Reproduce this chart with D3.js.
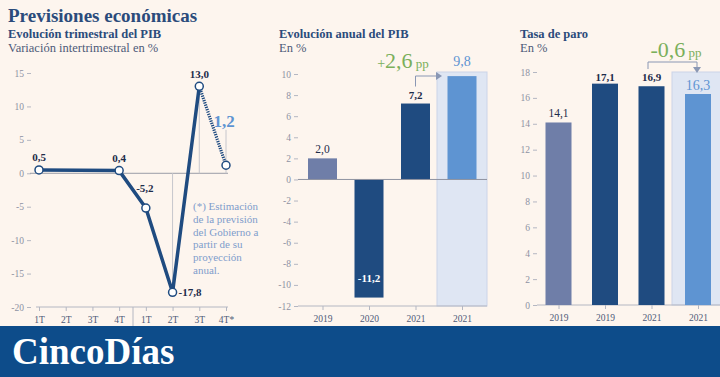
<!DOCTYPE html>
<html>
<head>
<meta charset="utf-8">
<script src="https://cdn.jsdelivr.net/npm/d3@7"></script>
<style>
  html, body { margin: 0; padding: 0; background: #fdf5ee; }
  svg { display: block; font-family: "Liberation Serif", serif; }
</style>
</head>
<body>
<svg id="chart" width="720" height="377"></svg>
<script>
// =========================
// DATOS
// =========================
const quarters = ["1T", "2T", "3T", "4T", "1T", "2T", "3T", "4T*"];
const pibTrimestral = [0.5, null, null, 0.4, -5.2, -17.8, 13.0, 1.2];
const quarterTicks = [-20, -15, -10, -5, 0, 5, 10, 15];

const pibYears = ["2019", "2020", "2021", "2021"];
const pibAnual = [2.0, -11.2, 7.2, 9.8];
const pibTicks = [-12, -10, -8, -6, -4, -2, 0, 2, 4, 6, 8, 10];

const paroYears = ["2019", "2019", "2021", "2021"];
const paroTasa = [14.1, 17.1, 16.9, 16.3];
const paroTicks = [0, 2, 4, 6, 8, 10, 12, 14, 16, 18];

// =========================
// ESTILOS
// =========================
const NAVY = "#1f4b80";
const GREY_BAR = "#6f7ea8";
const LIGHT = "#5e94d2";
const GREEN = "#7aaf5b";
const TICK = "#8d92a3";
const TITLE = "#2b4b7b";

const es = d3.formatLocale({ decimal: ",", thousands: ".", grouping: [3], currency: ["", "€"], minus: "-" });
const fmt = es.format(".1f");

const svg = d3.select("#chart");

svg.append("rect").attr("width", 720).attr("height", 377).attr("fill", "#fdf5ee");

// =========================
// TÍTULOS
// =========================
svg.append("text").attr("x", 8).attr("y", 22).text("Previsiones económicas")
  .style("font-size", "19px").style("font-weight", "bold").style("fill", TITLE);

function subtitle(x, title, sub) {
  svg.append("text").attr("x", x).attr("y", 38).text(title)
    .style("font-size", "12.5px").style("font-weight", "bold").style("fill", TITLE);
  svg.append("text").attr("x", x).attr("y", 52).text(sub)
    .style("font-size", "12.5px").style("fill", "#4d5a78");
}
subtitle(8, "Evolución trimestral del PIB", "Variación intertrimestral en %");
subtitle(279, "Evolución anual del PIB", "En %");
subtitle(520, "Tasa de paro", "En %");

function yAxis(g, scale, ticks, x) {
  const ax = g.append("g").attr("transform", `translate(${x},0)`)
    .call(d3.axisLeft(scale).tickValues(ticks).tickSize(4).tickPadding(3).tickFormat(d => String(d)));
  ax.select(".domain").remove();
  ax.selectAll("line").attr("stroke", "#b4b7c2");
  ax.selectAll("text").style("font-size", "9.5px").style("fill", TICK)
    .style("font-family", "'Liberation Serif', serif");
}

function xAxis(g, scale, labels, y, x0, x1) {
  g.append("line").attr("x1", x0).attr("x2", x1).attr("y1", y).attr("y2", y)
    .attr("stroke", "#b4b7c2");
  const ax = g.append("g").attr("transform", `translate(0,${y})`)
    .call(d3.axisBottom(scale).tickSize(4).tickPadding(5).tickFormat(i => labels[i]));
  ax.select(".domain").remove();
  ax.selectAll("line").attr("stroke", "#b4b7c2");
  ax.selectAll("text").style("font-size", "9.5px").style("fill", "#4d5a78")
    .style("font-family", "'Liberation Serif', serif");
}

// =========================
// GRÁFICO 1: TRIMESTRAL
// =========================
const g1 = svg.append("g");
const x1 = d3.scalePoint().domain(d3.range(quarters.length)).range([39, 226]);
const y1 = d3.scaleLinear().domain([-20, 15]).range([307, 73]);

yAxis(g1, y1, quarterTicks, 31);
xAxis(g1, x1, quarters, 307, 36, 228);
g1.append("line").attr("x1", 133).attr("x2", 133).attr("y1", 307).attr("y2", 326)
  .attr("stroke", "#b4b7c2");

g1.append("line").attr("x1", 30).attr("x2", 228).attr("y1", y1(0)).attr("y2", y1(0))
  .attr("stroke", "#9a9ca6");

// líneas guía verticales
const guides = [
  { i: 5, top: pibTrimestral[5], bottom: 0 },
  { i: 6, top: pibTrimestral[6], bottom: 0 },
  { i: 7, top: 6.5, bottom: 0 }
];
g1.selectAll(".guide").data(guides).enter().append("line")
  .attr("x1", d => x1(d.i)).attr("x2", d => x1(d.i))
  .attr("y1", d => y1(d.top)).attr("y2", d => y1(d.bottom))
  .attr("stroke", "#c6c6cc");

const pts = pibTrimestral.map((v, i) => ({ i, v })).filter(d => d.v !== null);
const real = pts.filter(d => d.i < 7);
const est = pts.filter(d => d.i >= 6);

const line = d3.line().x(d => x1(d.i)).y(d => y1(d.v));
g1.append("path").attr("d", line(real)).attr("fill", "none")
  .attr("stroke", NAVY).attr("stroke-width", 3.5).attr("stroke-linejoin", "round");
g1.append("path").attr("d", line(est)).attr("fill", "none")
  .attr("stroke", NAVY).attr("stroke-width", 3.2).attr("stroke-dasharray", "1.3,1.1");

g1.selectAll(".pt").data(pts).enter().append("circle")
  .attr("cx", d => x1(d.i)).attr("cy", d => y1(d.v)).attr("r", 4)
  .attr("fill", "white").attr("stroke", NAVY).attr("stroke-width", 1.5);

const labelPos = { 0: [0, -9, "middle"], 3: [0, -9, "middle"], 4: [-1, -16, "middle"], 5: [6, 4, "start"], 6: [0, -8, "middle"] };
g1.selectAll(".lbl").data(pts.filter(d => labelPos[d.i])).enter().append("text")
  .attr("x", d => x1(d.i) + labelPos[d.i][0]).attr("y", d => y1(d.v) + labelPos[d.i][1])
  .attr("text-anchor", d => labelPos[d.i][2])
  .text(d => fmt(d.v))
  .style("font-size", "11px").style("font-weight", "bold").style("fill", "#1d2c4a");

g1.append("text").attr("x", x1(7) - 2).attr("y", y1(pibTrimestral[7]) - 38)
  .attr("text-anchor", "middle").text(fmt(pibTrimestral[7]))
  .style("font-size", "17px").style("font-weight", "bold").style("fill", LIGHT);

const note = ["(*) Estimación", "de la previsión", "del Gobierno a", "partir de su", "proyección", "anual."];
g1.append("text").attr("x", 193).attr("y", 210)
  .style("font-size", "11px").style("fill", "#7f9dcc")
  .selectAll("tspan").data(note).enter().append("tspan")
  .attr("x", 193).attr("dy", (d, i) => i === 0 ? 0 : 12.8).text(d => d);

// =========================
// GRÁFICO 2: PIB ANUAL
// =========================
const g2 = svg.append("g");
const x2 = d3.scalePoint().domain(d3.range(pibYears.length)).range([322.5, 462]);
const y2 = d3.scaleLinear().domain([-12, 10]).range([306, 74]);
const bw2 = 29;
const barColors = [GREY_BAR, NAVY, NAVY, LIGHT];

g2.append("rect").attr("x", x2(3) - 25).attr("y", 72).attr("width", 50).attr("height", 306 - 72)
  .attr("fill", "#dfe6f3").attr("stroke", "#cbd4e8");

yAxis(g2, y2, pibTicks, 298);
xAxis(g2, x2, pibYears, 306, 298, 487);

g2.selectAll(".bar").data(pibAnual).enter().append("rect")
  .attr("x", (d, i) => x2(i) - bw2 / 2).attr("width", bw2)
  .attr("y", d => y2(Math.max(0, d))).attr("height", d => Math.abs(y2(d) - y2(0)))
  .attr("fill", (d, i) => barColors[i]);

g2.append("line").attr("x1", 298).attr("x2", 487).attr("y1", y2(0)).attr("y2", y2(0))
  .attr("stroke", "#8f93a0");

g2.append("text").attr("x", x2(0)).attr("y", y2(pibAnual[0]) - 5).attr("text-anchor", "middle")
  .text(fmt(pibAnual[0])).style("font-size", "11.5px").style("fill", "#1d2c4a");
g2.append("text").attr("x", x2(1)).attr("y", y2(pibAnual[1]) - 16).attr("text-anchor", "middle")
  .text(fmt(pibAnual[1])).style("font-size", "11px").style("font-weight", "bold").style("fill", "white");
g2.append("text").attr("x", x2(2)).attr("y", y2(pibAnual[2]) - 5).attr("text-anchor", "middle")
  .text(fmt(pibAnual[2])).style("font-size", "11px").style("font-weight", "bold").style("fill", "#1d2c4a");
g2.append("text").attr("x", x2(3)).attr("y", 66).attr("text-anchor", "middle")
  .text(fmt(pibAnual[3])).style("font-size", "14px").style("fill", LIGHT);

// flecha
g2.append("path")
  .attr("d", `M${x2(2)},${y2(pibAnual[2]) - 17}V76H${x2(3) - 22}`)
  .attr("fill", "none").attr("stroke", "#8a97b4").attr("stroke-width", 1);
g2.append("path").attr("d", `M${x2(3) - 26},72L${x2(3) - 20},76L${x2(3) - 26},80Z`).attr("fill", "#8a97b4");

const diffPib = pibAnual[3] - pibAnual[2];
const t2 = g2.append("text").attr("x", 403).attr("y", 68).attr("text-anchor", "middle").style("fill", GREEN);
t2.append("tspan").text(diffPib >= 0 ? "+" : "-").style("font-size", "14px");
t2.append("tspan").text(fmt(Math.abs(diffPib))).style("font-size", "22px");
t2.append("tspan").text(" pp").style("font-size", "13px");

// =========================
// GRÁFICO 3: PARO
// =========================
const g3 = svg.append("g");
const x3 = d3.scalePoint().domain(d3.range(paroYears.length)).range([558.5, 698]);
const y3 = d3.scaleLinear().domain([0, 18]).range([305, 72]);
const bw3 = 26;

g3.append("rect").attr("x", 672).attr("y", 72).attr("width", 60).attr("height", 305 - 72)
  .attr("fill", "#dfe6f3").attr("stroke", "#cbd4e8");

yAxis(g3, y3, paroTicks, 537);
xAxis(g3, x3, paroYears, 305, 537, 720);

g3.selectAll(".bar").data(paroTasa).enter().append("rect")
  .attr("x", (d, i) => x3(i) - bw3 / 2).attr("width", bw3)
  .attr("y", d => y3(d)).attr("height", d => y3(0) - y3(d))
  .attr("fill", (d, i) => barColors[i]);

g3.append("text").attr("x", x3(0)).attr("y", y3(paroTasa[0]) - 5).attr("text-anchor", "middle")
  .text(fmt(paroTasa[0])).style("font-size", "11.5px").style("fill", "#1d2c4a");
[1, 2].forEach(i => {
  g3.append("text").attr("x", x3(i)).attr("y", 81).attr("text-anchor", "middle")
    .text(fmt(paroTasa[i])).style("font-size", "11px").style("font-weight", "bold").style("fill", "#1d2c4a");
});
g3.append("text").attr("x", x3(3)).attr("y", 90).attr("text-anchor", "middle")
  .text(fmt(paroTasa[3])).style("font-size", "14px").style("fill", LIGHT);

g3.append("path").attr("d", `M648,69V62H697V68`)
  .attr("fill", "none").attr("stroke", "#8a97b4").attr("stroke-width", 1);
g3.append("path").attr("d", `M693,67L697,73L701,67Z`).attr("fill", "#8a97b4");

const diffParo = paroTasa[3] - paroTasa[2];
const t3 = g3.append("text").attr("x", 676).attr("y", 57).attr("text-anchor", "middle").style("fill", GREEN);
t3.append("tspan").text(diffParo >= 0 ? "+" : "-").style("font-size", "22px");
t3.append("tspan").text(fmt(Math.abs(diffParo))).style("font-size", "22px");
t3.append("tspan").text(" pp").style("font-size", "13px");

// =========================
// PIE
// =========================
svg.append("rect").attr("x", 0).attr("y", 326).attr("width", 720).attr("height", 51).attr("fill", "#0d4c8a");
svg.append("text").attr("x", 12).attr("y", 364).text("CincoDías")
  .style("font-size", "37px").style("font-weight", "bold").style("fill", "white");
</script>
</body>
</html>
